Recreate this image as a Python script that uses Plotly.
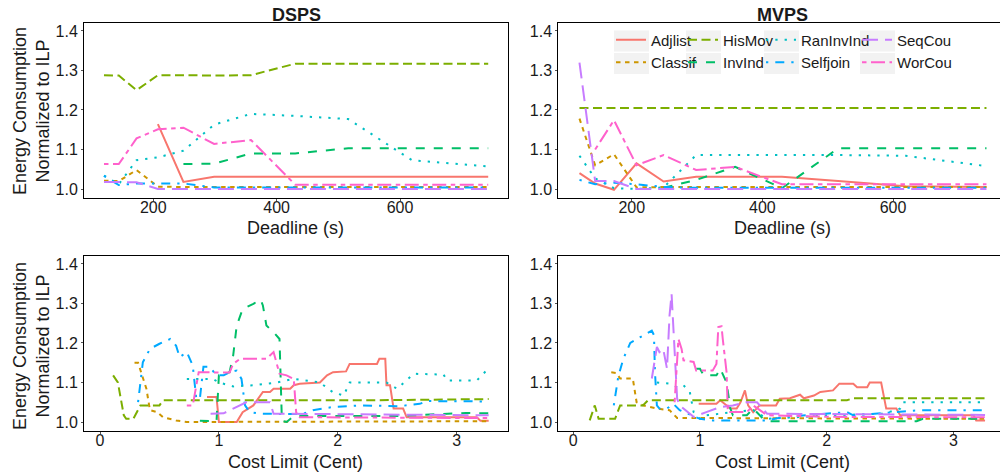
import plotly.graph_objects as go

# ---------------- data ----------------
series = ["Adjlist", "Classif", "HisMov", "InvInd", "RanInvInd", "Selfjoin", "SeqCou", "WorCou"]
colors = {"Adjlist": "#F8766D", "Classif": "#CD9600", "HisMov": "#7CAE00", "InvInd": "#00BE67",
          "RanInvInd": "#00BFC4", "Selfjoin": "#00A9FF", "SeqCou": "#C77CFF", "WorCou": "#FF61CC"}

deadline = [120, 144, 172.8, 207.4, 248.8, 298.6, 358.3, 430.0, 516.0, 619.2, 743.0]

# DSPS vs deadline
dsps_dl_Adjlist = [None, None, None, 1.164, 1.018, 1.031, 1.031, 1.031, 1.031, 1.031, 1.031]
dsps_dl_Classif = [1.021, 1.02, 1.048, 1.006, 1.005, 1.005, 1.005, 1.005, 1.005, 1.005, 1.005]
dsps_dl_HisMov = [1.288, 1.287, 1.25, 1.288, 1.288, 1.287, 1.288, 1.317, 1.317, 1.317, 1.317]
dsps_dl_InvInd = [None, None, None, None, 1.063, 1.064, 1.09, 1.09, 1.103, 1.103, 1.103]
dsps_dl_RanInvInd = [1.034, 1.012, 1.073, 1.08, 1.097, 1.163, 1.19, 1.185, 1.177, 1.073, 1.057]
dsps_dl_Selfjoin = [1.033, 1.01, 1.014, 1.014, 1.014, 1.004, 1.004, 1.004, 1.004, 1.004, 1.004]
dsps_dl_SeqCou = [1.018, 1.017, 1.017, 1.0, 1.0, 1.0, 1.0, 1.0, 1.0, 1.0, 1.0]
dsps_dl_WorCou = [1.063, 1.063, 1.128, 1.151, 1.155, 1.114, 1.124, 1.011, 1.011, 1.011, 1.011]

# MVPS vs deadline
mvps_dl_Adjlist = [1.04, 1.014, 0.998, 1.065, 1.019, 1.031, 1.031, 1.031, 1.02, 1.007, 1.005]
mvps_dl_Classif = [1.178, 1.06, 1.088, 1.004, 1.005, 1.005, 1.005, 1.005, 1.005, 1.005, 1.005]
mvps_dl_HisMov = [1.205, 1.205, 1.205, 1.205, 1.205, 1.205, 1.205, 1.205, 1.205, 1.205, 1.205]
mvps_dl_InvInd = [None, None, None, None, 1.003, 1.023, 1.056, 1.002, 1.103, 1.103, 1.103]
mvps_dl_RanInvInd = [1.084, 1.027, 1.002, 1.0, 1.004, 1.086, 1.086, 1.086, 1.086, 1.084, 1.058]
mvps_dl_Selfjoin = [1.023, 1.012, 1.016, 1.012, 1.005, 1.003, 1.003, 1.003, 1.003, 1.003, 1.003]
mvps_dl_SeqCou = [1.32, 1.02, 1.02, 1.0, 1.0, 1.0, 1.0, 1.0, 1.0, 1.0, 1.0]
mvps_dl_WorCou = [None, 1.10, 1.174, 1.06, 1.086, 1.048, 1.056, 1.012, 1.012, 1.012, 1.012]

# DSPS vs cost limit
dsps_cl_Adjlist_x = [0.9, 0.98, 1.0, 1.15, 1.2, 1.29, 1.37, 1.43, 1.46, 1.6, 1.63, 1.68, 1.85, 1.91, 1.96, 2.07, 2.1, 2.33, 2.35, 2.4, 2.41, 2.44, 2.47, 2.55, 2.58, 3.17, 3.2, 3.27]
dsps_cl_Adjlist_y = [1.063, 1.063, 1.0, 1.0, 1.025, 1.042, 1.076, 1.076, 1.084, 1.084, 1.093, 1.097, 1.1, 1.118, 1.126, 1.128, 1.147, 1.147, 1.16, 1.16, 1.093, 1.093, 1.034, 1.034, 1.012, 1.012, 1.003, 1.003]
dsps_cl_Classif_x = [0.29, 0.32, 0.39, 0.42, 0.48, 0.53, 0.64, 0.73, 3.27]
dsps_cl_Classif_y = [1.15, 1.15, 1.084, 1.03, 1.025, 1.012, 1.004, 1.0, 1.002]
dsps_cl_HisMov_x = [0.11, 0.15, 0.2, 0.22, 0.28, 0.34, 0.5, 0.53, 2.3, 3.27]
dsps_cl_HisMov_y = [1.118, 1.1, 1.017, 1.008, 1.008, 1.042, 1.042, 1.055, 1.055, 1.058]
dsps_cl_InvInd_x = [0.84, 0.98, 1.0, 1.09, 1.12, 1.15, 1.2, 1.29, 1.35, 1.37, 1.4, 1.46, 1.51, 1.53, 1.57, 1.63, 2.5, 3.08, 3.27]
dsps_cl_InvInd_y = [1.003, 1.002, 1.118, 1.126, 1.168, 1.244, 1.286, 1.299, 1.31, 1.295, 1.244, 1.227, 1.21, 1.003, 1.0, 1.015, 1.015, 1.023, 1.022]
dsps_cl_RanInvInd_x = [0.73, 0.95, 1.0, 1.12, 1.29, 1.49, 1.63, 1.85, 1.96, 2.05, 2.1, 2.41, 2.5, 2.56, 2.64, 2.89, 2.92, 3.17, 3.25]
dsps_cl_RanInvInd_y = [1.109, 1.109, 1.1, 1.09, 1.093, 1.1, 1.109, 1.1, 1.075, 1.067, 1.1, 1.1, 1.084, 1.1, 1.122, 1.12, 1.105, 1.105, 1.13]
dsps_cl_Selfjoin_x = [0.32, 0.36, 0.42, 0.5, 0.59, 0.64, 0.67, 0.73, 0.78, 0.81, 0.84, 0.87, 0.92, 0.98, 1.04, 1.09, 1.15, 1.19, 1.22, 1.26, 1.35, 1.7, 1.79, 1.96, 2.19, 2.52, 2.69, 2.75, 3.27]
dsps_cl_Selfjoin_y = [1.05, 1.151, 1.185, 1.198, 1.21, 1.193, 1.164, 1.177, 1.143, 1.059, 1.059, 1.14, 1.14, 1.118, 1.118, 1.126, 1.13, 1.109, 1.042, 1.025, 1.021, 1.02, 1.03, 1.038, 1.042, 1.04, 1.046, 1.053, 1.052]
dsps_cl_SeqCou_x = [0.93, 1.04, 1.12, 1.23, 1.43, 1.46, 3.27]
dsps_cl_SeqCou_y = [1.021, 1.022, 1.034, 1.05, 1.05, 1.021, 1.017]
dsps_cl_WorCou_x = [0.73, 0.78, 0.83, 1.09, 1.12, 1.18, 1.4, 1.46, 1.51, 1.57, 1.63, 1.65, 1.68, 3.27]
dsps_cl_WorCou_y = [1.042, 1.042, 1.126, 1.125, 1.147, 1.16, 1.16, 1.177, 1.122, 1.118, 1.109, 1.025, 1.012, 1.01]

# MVPS vs cost limit
mvps_cl_Adjlist_x = [0.99, 1.13, 1.16, 1.24, 1.29, 1.32, 1.355, 1.38, 1.42, 1.47, 1.6, 1.63, 1.71, 1.79, 1.82, 1.9, 1.95, 2.05, 2.1, 2.21, 2.24, 2.32, 2.34, 2.43, 2.47, 2.55, 2.58, 3.16, 3.18, 3.25]
mvps_cl_Adjlist_y = [1.046, 1.046, 1.055, 1.034, 1.034, 1.05, 1.08, 1.042, 1.025, 1.042, 1.042, 1.059, 1.06, 1.069, 1.06, 1.067, 1.076, 1.08, 1.097, 1.097, 1.088, 1.088, 1.1, 1.1, 1.034, 1.034, 1.017, 1.017, 1.004, 1.004]
mvps_cl_Classif_x = [0.3, 0.34, 0.37, 0.47, 0.5, 0.55, 0.66, 0.76, 0.82, 1.05, 3.25]
mvps_cl_Classif_y = [1.126, 1.124, 1.11, 1.11, 1.05, 1.042, 1.034, 1.03, 1.01, 1.01, 1.008]
mvps_cl_HisMov_x = [0.13, 0.17, 0.2, 0.33, 0.37, 0.55, 0.59, 2.16, 2.21, 3.25]
mvps_cl_HisMov_y = [1.004, 1.042, 1.008, 1.008, 1.042, 1.042, 1.055, 1.055, 1.06, 1.06]
mvps_cl_InvInd_x = [0.97, 1.0, 1.03, 1.13, 1.16, 1.21, 1.24, 1.26, 1.37, 1.42, 1.5, 1.55, 2.71, 2.76, 3.25]
mvps_cl_InvInd_y = [1.135, 1.135, 1.118, 1.118, 1.135, 1.1, 1.034, 1.017, 1.017, 1.034, 1.008, 1.002, 1.002, 1.008, 1.008]
mvps_cl_RanInvInd_x = [0.66, 0.76, 0.82, 0.87, 0.92, 0.95, 1.0, 1.05, 1.26, 1.42, 1.53, 2.05, 2.45, 2.58, 2.6, 3.25]
mvps_cl_RanInvInd_y = [1.1, 1.097, 1.088, 1.093, 1.076, 1.025, 1.008, 1.017, 1.025, 1.03, 1.008, 1.017, 1.021, 1.034, 1.05, 1.05]
mvps_cl_Selfjoin_x = [0.32, 0.355, 0.395, 0.45, 0.53, 0.58, 0.62, 0.637, 0.645, 0.66, 0.68, 0.74, 0.79, 0.84, 1.0, 1.1, 1.53, 1.66, 1.95, 2.16, 2.21, 2.58, 2.74, 3.25]
mvps_cl_Selfjoin_y = [1.042, 1.114, 1.16, 1.2, 1.215, 1.223, 1.231, 1.22, 1.126, 1.042, 1.034, 1.034, 1.046, 1.03, 1.008, 1.004, 1.004, 1.013, 1.021, 1.025, 1.017, 1.025, 1.03, 1.03]
mvps_cl_SeqCou_x = [0.62, 0.66, 0.68, 0.71, 0.74, 0.76, 0.776, 0.79, 0.82, 0.84, 0.95, 1.05, 1.16, 1.26, 1.37, 1.45, 1.53, 3.25]
mvps_cl_SeqCou_y = [1.11, 1.19, 1.177, 1.185, 1.135, 1.27, 1.324, 1.227, 1.059, 1.042, 1.013, 1.025, 1.038, 1.042, 1.05, 1.05, 1.021, 1.018]
mvps_cl_WorCou_x = [0.8, 0.83, 0.855, 0.87, 0.95, 0.97, 1.1, 1.13, 1.145, 1.17, 1.18, 1.21, 1.22, 1.37, 1.42, 1.53, 2.05, 3.25]
mvps_cl_WorCou_y = [1.05, 1.21, 1.185, 1.156, 1.152, 1.13, 1.13, 1.147, 1.24, 1.242, 1.21, 1.126, 1.025, 1.025, 1.042, 1.017, 1.013, 1.012]

y_ticks = [1.0, 1.1, 1.2, 1.3, 1.4]
dl_ticks = [200, 400, 600]
cl_ticks = [0, 1, 2, 3]

# ---------------- styling ----------------
dashes = {"Adjlist": "solid", "Classif": "4.5px,4.5px", "HisMov": "9px,4.5px", "InvInd": "9px,9px",
          "RanInvInd": "2.3px,7px", "Selfjoin": "2.3px,7px,9px,7px", "SeqCou": "16px,7px",
          "WorCou": "4.5px,4.5px,14px,4.5px"}
legend_of = {"Adjlist": "legend", "Classif": "legend", "HisMov": "legend2", "InvInd": "legend2",
             "RanInvInd": "legend3", "Selfjoin": "legend3", "SeqCou": "legend4", "WorCou": "legend4"}

g = globals()
fig = go.Figure()

panels = [("x", "y", "dsps_dl"), ("x2", "y2", "mvps_dl"), ("x3", "y3", "dsps_cl"), ("x4", "y4", "mvps_cl")]
for xa, ya, key in panels:
    for s in series:
        if key.endswith("dl"):
            xs = deadline
            ys = g[f"{key}_{s}"]
        else:
            xs = g[f"{key}_{s}_x"]
            ys = g[f"{key}_{s}_y"]
        fig.add_trace(go.Scatter(
            x=xs, y=ys, mode="lines", name=s, xaxis=xa, yaxis=ya,
            line=dict(color=colors[s], width=2, dash=dashes[s]),
            showlegend=(key == "mvps_dl"), legend=legend_of[s], connectgaps=False,
            hoverinfo="skip"))

W, H = 1000, 474
def px_x(p):
    return p / W
def px_y(p):
    return 1 - p / H

top_dom = [px_y(197.7), px_y(23)]
bot_dom = [px_y(430.7), px_y(256)]
left_dom = [px_x(84), px_x(507.7)]
right_dom = [px_x(558.3), 1.0]

tickfont = dict(family="Liberation Sans, Arial, sans-serif", size=16, color="#1a1a1a")
common_x = dict(showgrid=False, zeroline=False, showline=True, linecolor="black", linewidth=1,
                ticks="outside", ticklen=2, tickcolor="#555555", tickfont=tickfont,
                ticklabelstandoff=-7)
common_y = dict(showgrid=False, zeroline=False, showline=True, linecolor="black", linewidth=1,
                ticks="outside", ticklen=2, tickcolor="#555555", tickfont=tickfont,
                range=[0.978, 1.42], tickvals=y_ticks, ticktext=["%.1f" % v for v in y_ticks])

fig.update_layout(
    xaxis=dict(common_x, domain=left_dom, anchor="y", range=[87.6, 774.6], tickvals=dl_ticks, mirror=True),
    yaxis=dict(common_y, domain=top_dom, anchor="x", mirror=True),
    xaxis2=dict(common_x, domain=right_dom, anchor="y2", range=[87.6, 763.7], tickvals=dl_ticks, mirror=True),
    yaxis2=dict(common_y, domain=top_dom, anchor="x2", mirror=False),
    xaxis3=dict(common_x, domain=left_dom, anchor="y3", range=[-0.135, 3.43], tickvals=cl_ticks, mirror=True),
    yaxis3=dict(common_y, domain=bot_dom, anchor="x3", mirror=True),
    xaxis4=dict(common_x, domain=right_dom, anchor="y4", range=[-0.118, 3.368], tickvals=cl_ticks, mirror=True),
    yaxis4=dict(common_y, domain=bot_dom, anchor="x4", mirror=False),
    width=W, height=H,
    margin=dict(l=0, r=0, t=0, b=0),
    paper_bgcolor="white", plot_bgcolor="white",
    font=dict(family="Liberation Sans, Arial, sans-serif", color="#1a1a1a"),
)

legfont = dict(family="Liberation Sans, Arial, sans-serif", size=15, color="#1a1a1a")
leg_x = [611, 683, 761, 857]
for i, name in enumerate(["legend", "legend2", "legend3", "legend4"]):
    fig.update_layout({name: dict(x=px_x(leg_x[i]), y=px_y(23.5), xanchor="left", yanchor="top",
                                  orientation="v", bgcolor="rgba(0,0,0,0)", borderwidth=0,
                                  font=legfont, tracegroupgap=0, itemclick=False)})
    for r in range(2):
        fig.add_shape(type="rect", xref="paper", yref="paper",
                      x0=px_x(leg_x[i] + 3), x1=px_x(leg_x[i] + 38),
                      y0=px_y(30.5 + r * 22.5), y1=px_y(51.5 + r * 22.5),
                      fillcolor="#F2F2F2", line=dict(width=0), layer="above")

titlefont = dict(family="Liberation Sans, Arial, sans-serif", size=18, color="#1a1a1a")
ann = [
    dict(text="<b>DSPS</b>", x=px_x(296), y=px_y(15)),
    dict(text="<b>MVPS</b>", x=px_x(782), y=px_y(15)),
    dict(text="Deadline (s)", x=px_x(295), y=px_y(228)),
    dict(text="Deadline (s)", x=px_x(782), y=px_y(228)),
    dict(text="Cost Limit (Cent)", x=px_x(295), y=px_y(461.5)),
    dict(text="Cost Limit (Cent)", x=px_x(782), y=px_y(461.5)),
    dict(text="Energy Consumption<br>Normalized to ILP", x=px_x(31), y=px_y(111), textangle=-90),
    dict(text="Energy Consumption<br>Normalized to ILP", x=px_x(31), y=px_y(346), textangle=-90),
]
for a in ann:
    fig.add_annotation(xref="paper", yref="paper", showarrow=False, font=titlefont,
                       xanchor="center", yanchor="middle", **a)

fig.write_html("out.html")
